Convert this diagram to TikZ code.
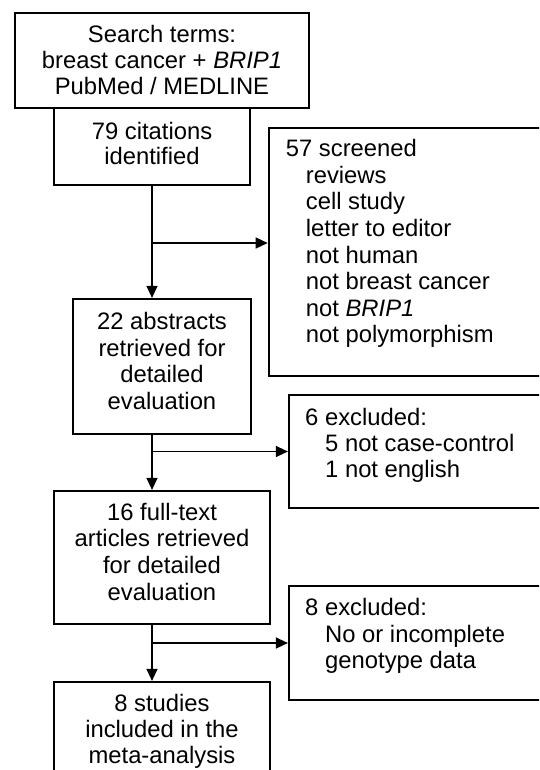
\documentclass[tikz,border=0pt]{standalone}
\usepackage{fontspec}
\setmainfont{Liberation Sans}
\usetikzlibrary{arrows.meta}
\begin{document}
\begin{tikzpicture}[x=1pt,y=-1pt,
  box/.style={draw, line width=2.2pt, rectangle, inner sep=0pt},
  txt/.style={inner sep=0pt, font=\fontsize{23.8}{26.6}\selectfont},
  ctr/.style={txt, anchor=base},
  lft/.style={txt, anchor=base west},
  conn/.style={line width=1.3pt},
  arr/.style={conn, -{Triangle[length=12pt,width=11pt]}}]
\clip (0,0) rectangle (539,770);
% boxes
\node[box, minimum width=294pt, minimum height=95pt] (b1) at (162,60.5) {};
\node[box, minimum width=196pt, minimum height=77pt] (b79) at (152,146.5) {};
\node[box, line width=2.6pt, minimum width=311pt, minimum height=248pt] (b57) at (424.5,252) {};
\node[box, minimum width=178pt, minimum height=135pt] (b22) at (162,366.5) {};
\node[box, minimum width=291pt, minimum height=113pt] (b6) at (434.5,451.5) {};
\node[box, minimum width=216pt, minimum height=133pt] (b16) at (162,557.5) {};
\node[box, minimum width=291pt, minimum height=114pt] (b8) at (434.5,643) {};
\node[box, minimum width=216pt, minimum height=118pt] (bf) at (162,741) {};
% texts
\node[ctr] (t1a) at (162,43) {Search terms:};
\node[ctr] (t1b) at (162,68.7) {breast cancer + \textit{BRIP1}};
\node[ctr] (t1c) at (162,94.3) {PubMed / MEDLINE};
\node[ctr] (t2a) at (152,139.3) {79 citations};
\node[ctr] (t2b) at (152,164.3) {identified};
\node[lft] (t3a) at (285.7,156.7) {57 screened};
\node[lft] (t3b) at (305.7,183.3) {reviews};
\node[lft] (t3c) at (305.7,209.9) {cell study};
\node[lft] (t3d) at (305.7,236.5) {letter to editor};
\node[lft] (t3e) at (305.7,263.1) {not human};
\node[lft] (t3f) at (305.7,289.7) {not breast cancer};
\node[lft] (t3g) at (305.7,316.3) {not \textit{BRIP1}};
\node[lft] (t3h) at (305.7,342.9) {not polymorphism};
\node[ctr] (t4a) at (162,329.3) {22 abstracts};
\node[ctr] (t4b) at (162,356) {retrieved for};
\node[ctr] (t4c) at (162,382.7) {detailed};
\node[ctr] (t4d) at (162,409.3) {evaluation};
\node[lft] (t5a) at (305,425) {6 excluded:};
\node[lft] (t5b) at (325,451.7) {5 not case-control};
\node[lft] (t5c) at (325,477.3) {1 not english};
\node[ctr] (t6a) at (162,520.7) {16 full-text};
\node[ctr] (t6b) at (162,546.7) {articles retrieved};
\node[ctr] (t6c) at (162,573.3) {for detailed};
\node[ctr] (t6d) at (162,600) {evaluation};
\node[lft] (t7a) at (305,615) {8 excluded:};
\node[lft] (t7b) at (325,642.7) {No or incomplete};
\node[lft] (t7c) at (325,668.3) {genotype data};
\node[ctr] (t8a) at (162,711.7) {8 studies};
\node[ctr] (t8b) at (162,737.3) {included in the};
\node[ctr] (t8c) at (162,763.3) {meta-analysis};
% connectors
\coordinate (spine) at (152,0);
\coordinate (j1) at (152,243);
\draw[arr] (b79.south) -- (spine |- b22.north);
\draw[arr] (j1) -- (j1 -| b57.west);
\draw[arr] (spine |- b22.south) -- (spine |- b16.north);
\draw[arr] (spine |- b6.west) -- (b6.west);
\draw[arr] (spine |- b16.south) -- (spine |- bf.north);
\draw[arr] (spine |- b8.west) -- (b8.west);
\end{tikzpicture}
\end{document}
